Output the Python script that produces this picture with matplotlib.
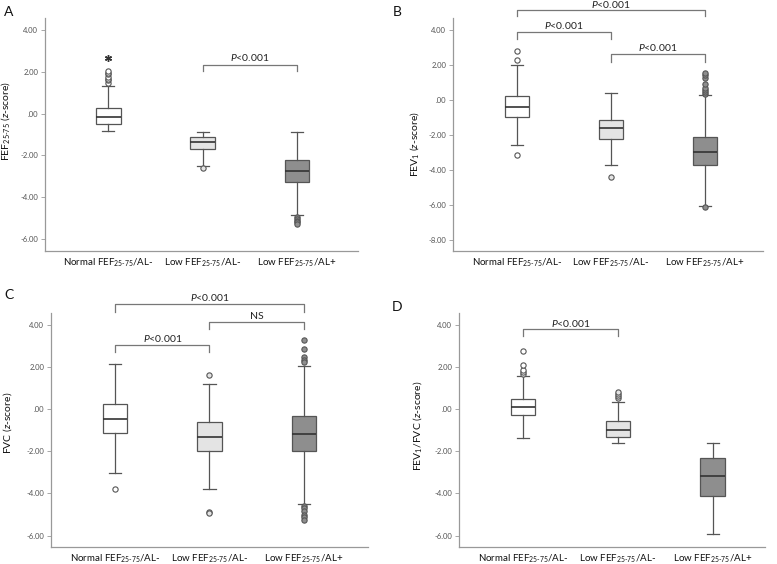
import matplotlib
matplotlib.use('Agg')
import matplotlib.pyplot as plt

plt.rcParams['font.family'] = ['Lato', 'DejaVu Sans']
plt.rcParams['mathtext.fontset'] = 'custom'
plt.rcParams['mathtext.rm'] = 'Lato'
plt.rcParams['mathtext.it'] = 'Lato:italic'
plt.rcParams['mathtext.bf'] = 'Lato:bold'

SUB = r"$_{\mathregular{25\text{-}75}}$"
groups = ["Normal FEF" + SUB + "/AL-", "Low FEF" + SUB + "/AL-", "Low FEF" + SUB + "/AL+"]

# Panel A: FEF25-75
a_q1 = [-0.50, -1.67, -3.27]
a_med = [-0.16, -1.38, -2.74]
a_q3 = [0.27, -1.11, -2.21]
a_lo = [-0.85, -2.49, -4.85]
a_hi = [1.34, -0.86, -0.90]
a_fliers = [[1.44, 1.60, 1.67, 1.75, 1.87, 1.95, 2.02], [-2.59], [-4.95, -5.03, -5.12, -5.20, -5.28]]
a_extreme = [[2.68], [], []]

# Panel B: FEV1
b_q1 = [-1.01, -2.25, -3.71]
b_med = [-0.44, -1.64, -2.97]
b_q3 = [0.21, -1.18, -2.13]
b_lo = [-2.57, -3.71, -6.08]
b_hi = [2.00, 0.40, 0.25]
b_fliers = [[2.29, 2.78, -3.14], [-4.42], [0.32, 0.45, 0.55, 0.69, 0.88, 1.26, 1.40, 1.54, -6.11]]

# Panel C: FVC
c_q1 = [-1.14, -2.00, -2.00]
c_med = [-0.48, -1.33, -1.19]
c_q3 = [0.22, -0.62, -0.33]
c_lo = [-3.02, -3.79, -4.51]
c_hi = [2.14, 1.21, 2.05]
c_fliers = [[-3.81], [1.60, -4.90, -4.95],
            [3.29, 2.83, 2.46, 2.35, 2.25, -4.60, -4.71, -4.83, -5.03, -5.14, -5.24]]

# Panel D: FEV1/FVC
d_q1 = [-0.29, -1.32, -4.10]
d_med = [0.11, -0.97, -3.19]
d_q3 = [0.48, -0.57, -2.33]
d_lo = [-1.37, -1.62, -5.90]
d_hi = [1.59, 0.35, -1.62]
d_fliers = [[1.67, 1.76, 1.87, 2.08, 2.78], [0.51, 0.60, 0.71, 0.81], []]

panels = [
    dict(letter="A", ylabel="FEF" + SUB + r" ($\mathit{z}$-score)",
         q1=a_q1, med=a_med, q3=a_q3, lo=a_lo, hi=a_hi, fl=a_fliers, ex=a_extreme,
         yticks=[4, 2, 0, -2, -4, -6],
         brackets=[(2, 3, 2.33, 2.02, 2.67, r"$\mathit{P}$<0.001")]),
    dict(letter="B", ylabel=r"FEV$_{\mathregular{1}}$ ($\mathit{z}$-score)",
         q1=b_q1, med=b_med, q3=b_q3, lo=b_lo, hi=b_hi, fl=b_fliers, ex=None,
         yticks=[4, 2, 0, -2, -4, -6, -8],
         brackets=[(1, 3, 5.10, 4.76, 5.42, r"$\mathit{P}$<0.001"),
                   (1, 2, 3.87, 3.49, 4.25, r"$\mathit{P}$<0.001"),
                   (2, 3, 2.59, 2.15, 2.97, r"$\mathit{P}$<0.001")]),
    dict(letter="C", ylabel=r"FVC ($\mathit{z}$-score)",
         q1=c_q1, med=c_med, q3=c_q3, lo=c_lo, hi=c_hi, fl=c_fliers, ex=None,
         yticks=[4, 2, 0, -2, -4, -6],
         brackets=[(1, 3, 5.01, 4.62, 5.29, r"$\mathit{P}$<0.001"),
                   (2, 3, 4.12, 3.80, 4.38, "NS"),
                   (1, 2, 3.06, 2.71, 3.35, r"$\mathit{P}$<0.001")]),
    dict(letter="D", ylabel=r"FEV$_{\mathregular{1}}$/FVC ($\mathit{z}$-score)",
         q1=d_q1, med=d_med, q3=d_q3, lo=d_lo, hi=d_hi, fl=d_fliers, ex=None,
         yticks=[4, 2, 0, -2, -4, -6],
         brackets=[(1, 2, 3.78, 3.46, 4.06, r"$\mathit{P}$<0.001")]),
]

W, H = 777, 564
fig = plt.figure(figsize=(W / 100, H / 100), dpi=100)

# pixel boxes: left, top, right, bottom
axboxes = [(45, 18, 358, 251), (453, 18, 763, 251), (51, 313, 368, 547), (459, 313, 765, 547)]
ylims = [(-6.57, 4.57), (-8.65, 4.67), (-6.54, 4.56), (-6.54, 4.56)]
xlims = [(0.33, 3.645), (0.32, 3.62), (0.32, 3.68), (0.326, 3.55)]
letter_pos = [(4, 12), (393, 12), (4, 295), (392, 307)]
ylabel_pos = [(-0.107, 0.56), (-0.103, 0.46), (-0.117, 0.53), (-0.114, 0.52)]

box_colors = ["#ffffff", "#e4e4e4", "#8e8e8e"]
flier_colors = ["#ffffff", "#e4e4e4", "#8e8e8e"]
edge = "#555555"


def fmt(v):
    s = f"{v:.2f}"
    if s.startswith("0."):
        s = s[1:]
    return s


for k, p in enumerate(panels):
    l, t, r, b = axboxes[k]
    ax = fig.add_axes([l / W, 1 - b / H, (r - l) / W, (b - t) / H])
    stats = []
    for i in range(3):
        stats.append(dict(q1=p["q1"][i], med=p["med"][i], q3=p["q3"][i],
                          whislo=p["lo"][i], whishi=p["hi"][i], fliers=p["fl"][i]))
    res = ax.bxp(stats, positions=[1, 2, 3], widths=0.26, patch_artist=True,
                 boxprops=dict(edgecolor=edge, linewidth=0.9),
                 medianprops=dict(color="#333333", linewidth=1.2),
                 whiskerprops=dict(color=edge, linewidth=0.9),
                 capprops=dict(color=edge, linewidth=0.9),
                 flierprops=dict(marker='o', markersize=3.8, markeredgecolor=edge,
                                 markeredgewidth=0.8, linestyle='none'))
    for i, patch in enumerate(res['boxes']):
        patch.set_facecolor(box_colors[i])
    for i, fl in enumerate(res['fliers']):
        fl.set_markerfacecolor(flier_colors[i])
    if p["ex"]:
        for i, vals in enumerate(p["ex"]):
            if vals:
                ax.plot([i + 1] * len(vals), vals, linestyle='none', marker=(6, 2, 0),
                        markersize=5, color="#333333", markeredgewidth=1.0)

    # brackets
    for (i1, i2, yl, yd, yt, lab) in p["brackets"]:
        ax.plot([i1, i1, i2, i2], [yd, yl, yl, yd], color="#777777", linewidth=0.9,
                clip_on=False)
        ax.text((i1 + i2) / 2, yt, lab, ha='center', va='center', fontsize=7.5,
                color="#222222", clip_on=False)

    ax.set_xlim(*xlims[k])
    ax.set_ylim(*ylims[k])
    ax.set_xticks([1, 2, 3])
    ax.set_xticklabels(groups, fontsize=7, color="#111111")
    ax.tick_params(axis='x', length=0, pad=4)
    ax.set_yticks(p["yticks"])
    ax.set_yticklabels([fmt(v) for v in p["yticks"]], fontsize=5.5, color="#555555")
    ax.tick_params(axis='y', length=3, width=0.6, color="#999999", pad=2)
    for s in ["top", "right"]:
        ax.spines[s].set_visible(False)
    for s in ["left", "bottom"]:
        ax.spines[s].set_color("#999999")
        ax.spines[s].set_linewidth(0.9)
    ax.set_ylabel(p["ylabel"], fontsize=7.5, color="#111111")
    ax.yaxis.set_label_coords(*ylabel_pos[k])
    ax.set_facecolor("none")

    lx, ly = letter_pos[k]
    fig.text(lx / W, 1 - ly / H, p["letter"], fontsize=10, ha='left', va='center',
             color="#111111")

fig.savefig("out.png", dpi=100)
